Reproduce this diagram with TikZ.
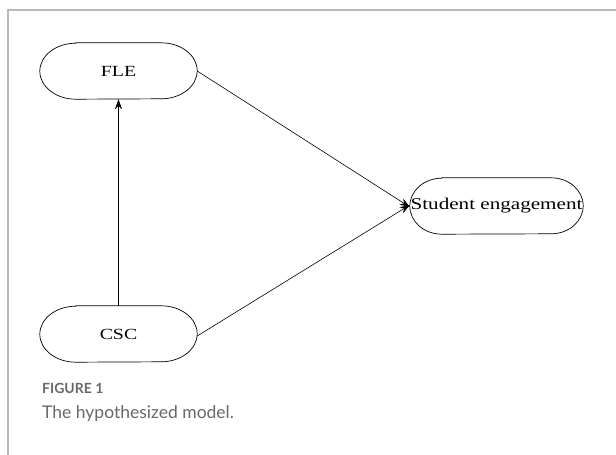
\documentclass[tikz,border=0pt]{standalone}
\usepackage{fontspec}
\setmainfont{Liberation Serif}
\newfontfamily\nodefont[FakeStretch=1.28]{Liberation Serif}
\newfontfamily\capfont{Lato}
\usetikzlibrary{arrows.meta}
\definecolor{capgray}{RGB}{105,105,108}
\definecolor{framegray}{RGB}{185,185,185}
\tikzset{
  box/.style={rectangle,draw=none,inner sep=0pt,minimum height=56pt,font=\nodefont\fontsize{15.5}{17}\selectfont},
  conn/.style={line width=0.6pt,-{Stealth[length=10pt,width=7pt]}},
  outline/.style={line width=0.7pt},
  capt/.style={anchor=base west,inner sep=0pt,text=capgray}
}
\newcommand{\stadium}[2]{%
  \draw[outline] ([xshift=#2]#1.north west) -- ([xshift=-#2]#1.north east)
    arc[start angle=90,end angle=-90,x radius=#2,y radius=28pt]
    -- ([xshift=#2]#1.south west)
    arc[start angle=270,end angle=90,x radius=#2,y radius=28pt] -- cycle;}
\begin{document}
\begin{tikzpicture}[x=1pt,y=-1pt]
\useasboundingbox (0,0) rectangle (616,455);
\draw[framegray,line width=1.2pt] (616,10) coordinate (tr) -- (8,10) coordinate (tl) -- (8,455) coordinate (bl);
\node[box,minimum width=157pt] (fle) at (118.5,71) {FLE};
\node[box,minimum width=157pt] (csc) at (118.5,334) {CSC};
\node[box,minimum width=173pt,font=\nodefont\fontsize{16.5}{18}\selectfont] (se) at (496.5,206) {Student engagement};
\stadium{fle}{36pt}
\stadium{csc}{36pt}
\stadium{se}{32pt}
\draw[conn] (csc.north) -- (fle.south);
\draw[conn] (fle.east) -- ([yshift=-1pt]se.west);
\draw[conn] ([yshift=-2pt]csc.east) -- ([yshift=1pt]se.west);
\node[capt,font=\capfont\bfseries\fontsize{14}{16}\selectfont] (fig) at (42,393) {FIGURE 1};
\node[capt,font=\capfont\fontsize{17.5}{20}\selectfont] (cap) at (42,418) {The hypothesized model.};
\end{tikzpicture}
\end{document}
